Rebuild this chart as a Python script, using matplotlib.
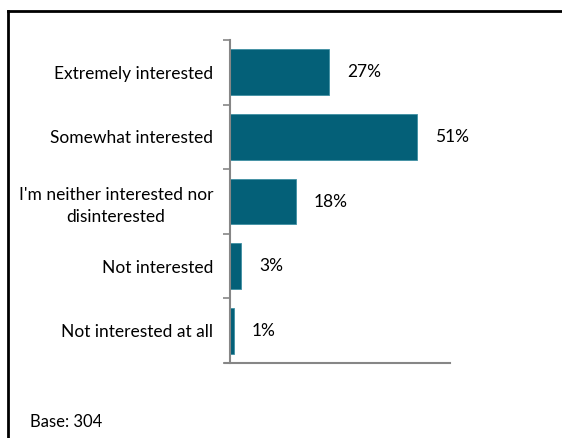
import numpy as np
import matplotlib.pyplot as plt
from matplotlib.lines import Line2D

plt.rcParams['font.family'] = ['Lato', 'DejaVu Sans']

# Data
categories = ['Extremely interested', 'Somewhat interested',
              "I'm neither interested nor\ndisinterested",
              'Not interested', 'Not interested at all']
values = [27, 51, 18, 3, 1]
value_labels = ['27%', '51%', '18%', '3%', '1%']
base_text = 'Base: 304'

BAR = '#046078'
AXIS = '#868686'

fig = plt.figure(figsize=(5.62, 4.38), dpi=100)
ax = fig.add_axes([230/562, 1 - 363/438, 220/562, 323/438])

y = np.arange(len(categories))
ax.barh(y, values, height=0.71, color=BAR, edgecolor='#3f8fa3', linewidth=0.6)
ax.set_xlim(0, 60)
ax.set_ylim(len(categories) - 0.5, -0.5)

for yi, v, lab in zip(y, values, value_labels):
    ax.annotate(lab, (v, yi), xytext=(13, 0), textcoords='offset points',
                ha='left', va='center', fontsize=12.5, color='black')

ax.set_yticks(y)
ax.set_yticklabels(categories, fontsize=12.5, ha='right', multialignment='center',
                   linespacing=1.45)
ax.tick_params(axis='y', which='major', length=0, pad=12)
ax.set_yticks(np.arange(-0.5, len(categories), 1), minor=True)
ax.tick_params(axis='y', which='minor', length=5, color=AXIS, width=1.2)
ax.set_xticks([])

for s in ['top', 'right', 'bottom']:
    ax.spines[s].set_visible(False)
ax.spines['left'].set_color(AXIS)
ax.spines['left'].set_linewidth(1.5)
ax.add_line(Line2D([-0.023, 1], [0, 0], transform=ax.transAxes,
                   color=AXIS, linewidth=1.5, clip_on=False))

# outer frame (top and left only, picture cropped)
fig.add_artist(Line2D([8/562, 1], [1 - 11/438, 1 - 11/438], transform=fig.transFigure,
                      color='black', linewidth=2))
fig.add_artist(Line2D([8/562, 8/562], [0, 1 - 11/438], transform=fig.transFigure,
                      color='black', linewidth=2))

fig.text(30/562, 1 - 422/438, base_text, fontsize=12, va='center', ha='left')

fig.savefig('out.png', dpi=100)
